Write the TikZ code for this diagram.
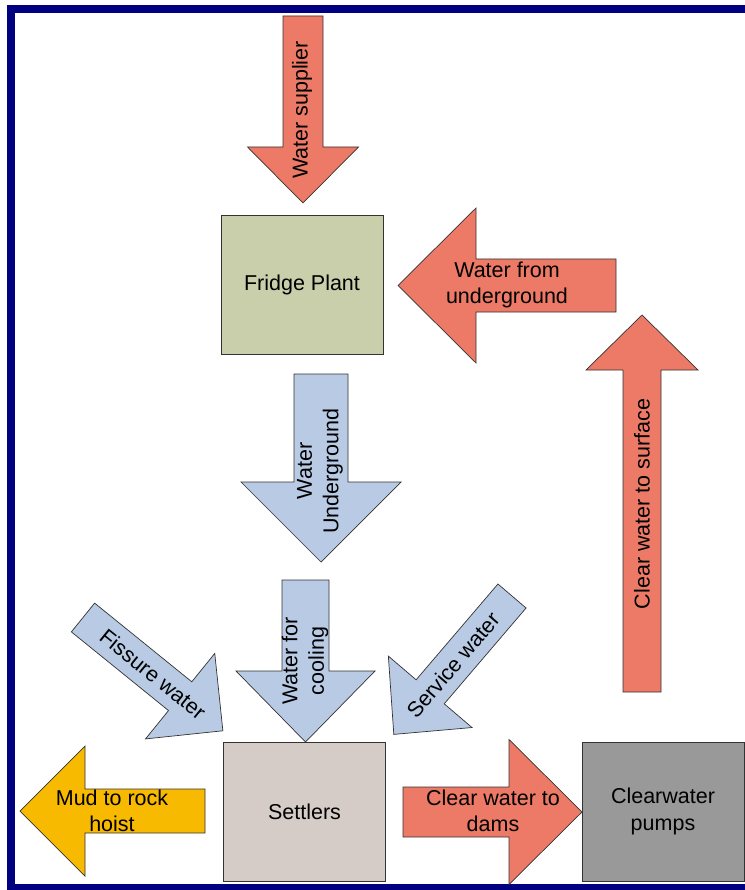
\documentclass[tikz,border=0pt]{standalone}
\usepackage{fontspec}
\setmainfont{Liberation Sans}
\definecolor{salmon}{HTML}{EC7A66}
\definecolor{lblue}{HTML}{B8CAE4}
\definecolor{fridge}{HTML}{C8CFAA}
\definecolor{settle}{HTML}{D5CCC7}
\definecolor{pumpc}{HTML}{999999}
\definecolor{mudc}{HTML}{F8BA00}
\definecolor{navyb}{HTML}{000080}
\newcommand{\blkarrow}[8]{%
  \begin{scope}[shift={(#2,#3)}, rotate=#4]
    \filldraw[fill=#1, outl] (0,-#6/2) -- (#5-#8,-#6/2) -- (#5-#8,-#7/2) -- (#5,0)
      -- (#5-#8,#7/2) -- (#5-#8,#6/2) -- (0,#6/2) -- cycle;
  \end{scope}}
\begin{document}
\begin{tikzpicture}[x=1pt,y=-1pt,
  outl/.style={draw=black!80, line width=0.7pt},
  lbl/.style={font=\fontsize{21.5}{26.5}\selectfont, align=center, text=black},
  boxn/.style={outl, minimum width=162pt, minimum height=139pt, inner sep=0pt, lbl}]
\useasboundingbox (0,0) rectangle (744,890);
\fill[white] (0,0) rectangle (744,890);
% frame
\draw[navyb, line width=8pt] (11,9) rectangle (780,888);
% arrows
\blkarrow{salmon}{303}{16}{-90}{187}{40}{111}{56}
\blkarrow{salmon}{616}{285.5}{180}{218}{53}{155}{78}
\blkarrow{salmon}{642}{692}{90}{377}{38}{112}{55}
\blkarrow{lblue}{321}{374}{-90}{188}{54}{160}{80}
\blkarrow{lblue}{305.5}{580}{-90}{162}{47}{139}{71}
\blkarrow{lblue}{83}{617.5}{-39}{180}{37}{110}{55}
\blkarrow{lblue}{512}{596}{-130.5}{182}{37}{110}{56}
\blkarrow{mudc}{205}{811}{180}{185}{44}{130}{65}
\blkarrow{salmon}{403}{812}{0}{179}{50}{145}{73}
% boxes
\node[boxn, fill=fridge] (fridge) at (302,284.5) {Fridge Plant};
\node[boxn, fill=settle] (settlers) at (304.5,811.5) {Settlers};
\node[boxn, fill=pumpc] (pumps) at (663,811.5) {Clearwater\\pumps};
% arrow labels
\node[lbl, rotate=90] (tsupp) at (302,110) {Water supplier};
\node[lbl] (tfrom) at (507,285) {Water from\\underground};
\node[lbl, rotate=90] (tsurf) at (642,504) {Clear water to surface};
\node[lbl, rotate=90] (tunder) at (320,471) {Water\\Underground};
\node[lbl, rotate=90] (tcool) at (305,661) {Water for\\cooling};
\node[lbl, rotate=-39] (tfiss) at (153,674) {Fissure water};
\node[lbl, rotate=49.5] (tserv) at (453,665) {Service water};
\node[lbl] (tmud) at (112,811) {Mud to rock\\hoist};
\node[lbl] (tdams) at (493,811) {Clear water to\\dams};
\end{tikzpicture}
\end{document}
